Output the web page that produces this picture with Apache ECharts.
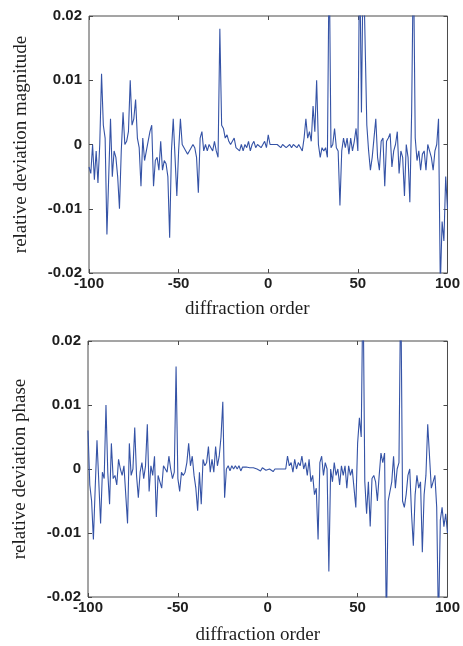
<!DOCTYPE html>
<html>
<head>
<meta charset="utf-8">
<script src="https://cdn.jsdelivr.net/npm/echarts@6/dist/echarts.min.js"></script>
<style>
html,body{margin:0;padding:0;background:#fff;}
#chart{width:463px;height:646px;}
</style>
</head>
<body>
<div id="chart"></div>
<script>
// diffraction orders -100 .. 100
const orderMin = -100;
const orderMax = 100;
const xTicks = [-100, -50, 0, 50, 100];
const yTicks = [-0.02, -0.01, 0, 0.01, 0.02];

const magnitudeName = 'relative deviation magnitude';
const phaseName = 'relative deviation phase';
const xName = 'diffraction order';

// relative deviation magnitude, orders -100..100
const magnitude = [
  -0.0035, -0.0045, 0, -0.0055, -0.001, -0.006, 0, 0.011, 0.003, 0.001,
  -0.014, -0.005, 0.004, -0.005, -0.001, -0.002, -0.005, -0.010, -0.001, 0.005,
  0, 0.0005, 0.002, 0.010, 0.003, 0.004, 0.007, 0.001, -0.0005, -0.0065,
  0.001, -0.0025, -0.001, -0.001, 0.002, 0.003, -0.0065, -0.0025, -0.002, -0.004,
  0.0005, -0.004, -0.0025, -0.003, -0.005, -0.0145, -0.001, 0.004, -0.002, -0.008,
  -0.001, 0.004, 0, 0, -0.001, -0.0015, -0.001, -0.001, 0, -0.0005,
  -0.002, -0.0075, 0.001, 0.002, -0.001, 0, -0.001, 0, -0.0005, -0.001,
  0.0005, -0.001, -0.002, 0.018, 0.003, 0.0025, 0.001, 0.0015, 0.0005, 0,
  0, 0.001, -0.0005, -0.0005, -0.001, 0, -0.001, 0, -0.0005, 0.0005,
  -0.001, 0, 0.0005, -0.0005, 0, 0, -0.0005, 0, 0.0005, -0.0005,
  0.0015,
  0, 0, 0, -0.0003, 0, -0.0003, -0.0005, 0, -0.0003, -0.0005,
  -0.0003, 0, -0.0005, 0, -0.0003, -0.0005, 0, -0.0005, -0.001, 0.001,
  0.004, 0.001, 0.002, 0.0005, 0.006, 0.002, 0.010, 0, -0.002, -0.0005,
  -0.001, -0.0005, -0.002, 0.030, -0.0005, 0, 0.0025, -0.0005, -0.001, -0.0095,
  -0.001, 0.001, -0.0005, 0.001, -0.0015, 0.001, -0.001, 0.0005, 0.0025, -0.001,
  0.030, 0.005, 0.030, 0.030, 0.003, -0.001, -0.004, -0.002, 0.001, 0.004,
  -0.002, -0.004, 0.0005, 0.001, -0.0065, 0.0005, 0.001, 0.0017, -0.0035, -0.001,
  0, 0.002, -0.0045, -0.001, -0.002, -0.008, 0, -0.002, -0.009, 0.005,
  0.030, 0.001, -0.0025, -0.001, -0.004, -0.0015, -0.001, -0.004, 0, -0.001,
  -0.002, -0.004, -0.001, 0, 0.004, -0.022, -0.012, -0.015, -0.005, -0.010
];

// relative deviation phase, orders -100..100
const phase = [
  0.006, -0.0025, -0.005, -0.011, -0.003, 0.0045, -0.002, -0.0085, -0.0005, -0.0015,
  0.010, -0.0005, -0.0055, 0.004, -0.0015, -0.001, -0.0025, 0.0015, 0, -0.001,
  0.0005, -0.004, -0.0085, 0.004, -0.001, 0, 0.0065, -0.001, -0.0045, -0.0005,
  0.001, -0.0015, 0.0005, 0.007, -0.0035, 0.0005, -0.001, 0.002, -0.0075, -0.001,
  -0.002, -0.003, 0.0005, 0, -0.0005, 0.002, 0, -0.0015, -0.0005, 0.016,
  -0.0015, -0.0035, -0.0005, -0.001, -0.0005, 0.001, 0.004, 0.0005, 0.002, -0.001,
  -0.003, -0.0065, -0.0005, -0.0055, 0.0015, 0.0005, 0.001, 0.0035, -0.0005, 0.0015,
  -0.0005, 0.0035, 0.0005, 0.002, 0.005, 0.0105, -0.0045, 0, 0.0005, -0.0003,
  0.0005, 0, 0.0005, 0, 0.0005, -0.0003, 0.0003, 0, 0.0003, 0,
  0.0002, 0, 0.0002, 0, 0, 0, -0.0003, 0.0002, 0, -0.0002,
  0,
  0, -0.0002, -0.0004, 0, -0.0002, 0, -0.0003, 0, -0.0002, 0,
  0.002, 0.0005, 0.001, -0.0005, 0.0015, 0, 0.001, 0.0005, 0.002, 0,
  0.001, -0.001, 0.0015, -0.002, -0.001, -0.004, -0.003, -0.011, 0.001, 0.002,
  -0.001, 0.001, 0, -0.016, 0, -0.002, 0.001, -0.001, 0, -0.0025,
  0.0005, -0.001, 0.0005, -0.003, 0.0005, -0.001, 0, 0, -0.006, 0.004,
  0.008, 0.005, 0.030, -0.002, -0.007, -0.002, -0.009, -0.0015, -0.001, -0.002,
  -0.005, -0.001, 0.0025, 0.001, 0.0025, -0.025, -0.005, -0.005, -0.002, 0.002,
  -0.003, 0, 0.001, 0.030, -0.005, -0.006, -0.004, -0.001, 0, -0.007,
  -0.012, -0.004, -0.001, -0.003, -0.002, -0.013, -0.004, -0.001, 0.007, 0.002,
  -0.003, -0.002, -0.001, -0.006, -0.025, -0.008, -0.006, -0.009, -0.007, -0.010
];

const toPairs = arr => arr.map((v, i) => [orderMin + i, v]);

const lineColor = '#3553a6';
const boxColor = '#4a4a4a';
const tickFont = { fontFamily: 'Liberation Sans', fontWeight: 'bold', fontSize: 15, color: '#1e1e1e' };
const nameFont = { fontFamily: 'Liberation Serif', fontSize: 19, color: '#1e1e1e' };

function yLabel(v) {
  if (v === 0) return '0';
  return String(Number(v.toFixed(2)));
}

const tickStyle = { show: true, inside: true, length: 4, lineStyle: { color: boxColor } };
const hiddenLine = { show: false, onZero: false };

function xMain(gridIndex, shiftPad, gap) {
  return {
    type: 'value', gridIndex, position: 'bottom', min: orderMin, max: orderMax, interval: 50,
    name: xName, nameLocation: 'middle', nameGap: gap,
    nameTextStyle: Object.assign({ padding: [0, shiftPad, 0, 0] }, nameFont),
    axisLine: hiddenLine,
    axisTick: tickStyle,
    axisLabel: Object.assign({ margin: 3, formatter: v => String(v) }, tickFont),
    splitLine: { show: false }
  };
}
function xTop(gridIndex) {
  return {
    type: 'value', gridIndex, position: 'top', min: orderMin, max: orderMax, interval: 50,
    axisLine: hiddenLine,
    axisTick: tickStyle,
    axisLabel: { show: false }, splitLine: { show: false }
  };
}
function yMain(gridIndex, name) {
  return {
    type: 'value', gridIndex, position: 'left', min: -0.02, max: 0.02, interval: 0.01,
    name, nameLocation: 'middle', nameGap: 58,
    nameTextStyle: nameFont,
    axisLine: hiddenLine,
    axisTick: tickStyle,
    axisLabel: Object.assign({ margin: 7, formatter: yLabel }, tickFont),
    splitLine: { show: false }
  };
}
function yRight(gridIndex) {
  return {
    type: 'value', gridIndex, position: 'right', min: -0.02, max: 0.02, interval: 0.01,
    axisLine: hiddenLine,
    axisTick: tickStyle,
    axisLabel: { show: false }, splitLine: { show: false }
  };
}

const chart = echarts.init(document.getElementById('chart'), null, { renderer: 'canvas' });
chart.setOption({
  animation: false,
  backgroundColor: '#ffffff',
  grid: [
    { left: 89, top: 16, width: 360, height: 257, show: true, borderColor: boxColor, borderWidth: 1, backgroundColor: '#fff' },
    { left: 88, top: 341, width: 361, height: 258, show: true, borderColor: boxColor, borderWidth: 1, backgroundColor: '#fff' }
  ],
  xAxis: [xMain(0, 42, 27), xTop(0), xMain(1, 20, 29), xTop(1)],
  yAxis: [yMain(0, magnitudeName), yRight(0), yMain(1, phaseName), yRight(1)],
  series: [
    {
      type: 'line', xAxisIndex: 0, yAxisIndex: 0, data: toPairs(magnitude),
      showSymbol: false, clip: true, lineStyle: { color: lineColor, width: 1.1 }
    },
    {
      type: 'line', xAxisIndex: 2, yAxisIndex: 2, data: toPairs(phase),
      showSymbol: false, clip: true, lineStyle: { color: lineColor, width: 1.1 }
    }
  ]
});
</script>
</body>
</html>
